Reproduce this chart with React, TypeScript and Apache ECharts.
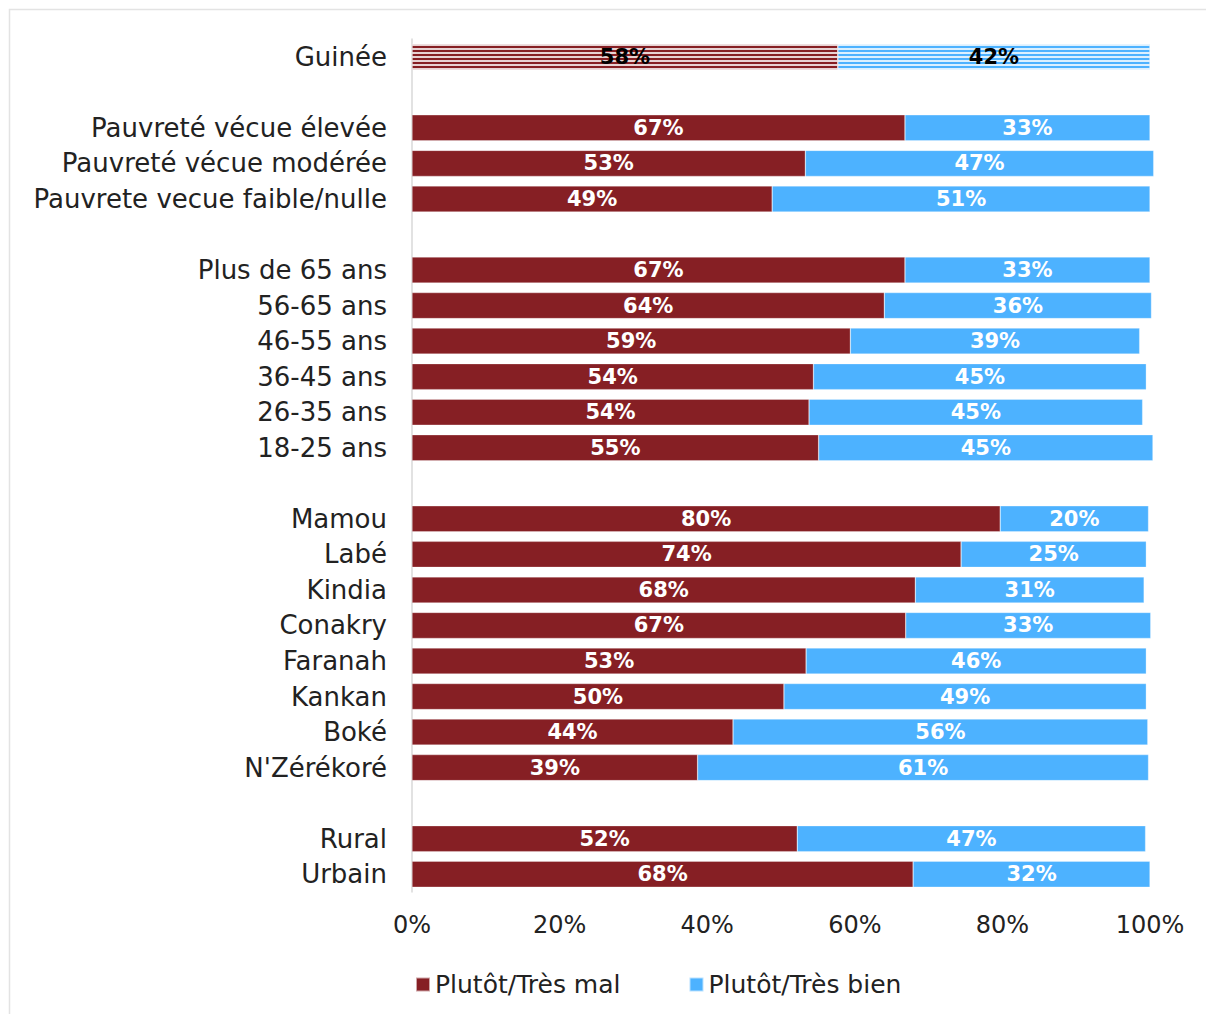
import React, { useEffect, useRef } from "react";
import * as echarts from "echarts";

const categories = [
  "Guinée",
  " ",
  "Pauvreté vécue élevée",
  "Pauvreté vécue modérée",
  "Pauvrete vecue faible/nulle",
  "  ",
  "Plus de 65 ans",
  "56-65 ans",
  "46-55 ans",
  "36-45 ans",
  "26-35 ans",
  "18-25 ans",
  "   ",
  "Mamou",
  "Labé",
  "Kindia",
  "Conakry",
  "Faranah",
  "Kankan",
  "Boké",
  "N'Zérékoré",
  "    ",
  "Rural",
  "Urbain",
];

const malValues: (number | null)[] = [
  57.7, null, 66.8, 53.3, 48.8, null, 66.8, 64.0, 59.4, 54.4, 53.8, 55.1, null,
  79.7, 74.4, 68.2, 66.9, 53.4, 50.4, 43.5, 38.7, null, 52.2, 67.9,
];

const bienValues: (number | null)[] = [
  42.3, null, 33.2, 47.2, 51.2, null, 33.2, 36.2, 39.2, 45.1, 45.2, 45.3, null,
  20.1, 25.1, 31.0, 33.2, 46.1, 49.1, 56.2, 61.1, null, 47.2, 32.1,
];

const xTicks = [0, 20, 40, 60, 80, 100];
const seriesNames = ["Plutôt/Très mal", "Plutôt/Très bien"];
const colors = ["#861F24", "#4DB2FF"];

const FONT = "DejaVu Sans";

function buildData(values: (number | null)[], color: string) {
  return values.map((v, i) => {
    if (v === null) return "-";
    if (i === 0) {
      return {
        value: v,
        itemStyle: {
          color,
          decal: {
            symbol: "rect",
            symbolSize: 1,
            dashArrayX: [1, 0],
            dashArrayY: [2, 2],
            rotation: 0,
            color: "rgba(255,255,255,0.8)",
          },
        },
        label: { color: "#000" },
      };
    }
    return v;
  });
}

export default function App() {
  const ref = useRef<HTMLDivElement>(null);
  useEffect(() => {
    if (!ref.current) return;
    const chart = echarts.init(ref.current, null, { renderer: "svg" });
    const mkSeries = (idx: number, values: (number | null)[]) => ({
      name: seriesNames[idx],
      type: "bar",
      stack: "total",
      barWidth: 26,
      clip: false,
      data: buildData(values, colors[idx]),
      itemStyle: { color: colors[idx], borderColor: "rgba(255,255,255,0.6)", borderWidth: 0.5 },
      label: {
        show: true,
        position: "inside",
        color: "#fff",
        fontFamily: FONT,
        fontWeight: "bold",
        fontSize: 21,
        formatter: (p: any) => Math.round(p.value) + "%",
      },
    });
    chart.setOption({
      animation: false,
      backgroundColor: "#fff",
      textStyle: { fontFamily: FONT },
      graphic: [
        {
          type: "rect",
          shape: { x: 9.5, y: 9.5, width: 1220, height: 1030 },
          style: { fill: "none", stroke: "#e3e3e3", lineWidth: 1.5 },
          silent: true,
        },
      ],
      legend: {
        top: 967,
        left: 410,
        itemWidth: 14,
        itemHeight: 14,
        itemGap: 68,
        icon: "rect",
        textStyle: { fontFamily: FONT, fontSize: 25, color: "#222" },
        data: seriesNames,
      },
      grid: { left: 412, right: 56, top: 39, bottom: 122, containLabel: false },
      xAxis: {
        type: "value",
        min: 0,
        max: 100,
        interval: 20,
        axisLine: { show: false },
        axisTick: { show: false },
        splitLine: { show: false },
        axisLabel: {
          margin: 21,
          fontFamily: FONT,
          fontSize: 24,
          color: "#222",
          formatter: (v: number) => (xTicks.includes(v) ? v + "%" : ""),
        },
      },
      yAxis: {
        type: "category",
        inverse: true,
        data: categories,
        axisLine: { show: true, lineStyle: { color: "#d9d9d9", width: 1.5 } },
        axisTick: { show: false },
        axisLabel: {
          margin: 25,
          fontFamily: FONT,
          fontSize: 26,
          color: "#222",
          interval: 0,
        },
      },
      series: [mkSeries(0, malValues), mkSeries(1, bienValues)],
    });
    return () => chart.dispose();
  }, []);
  return (
    <div
      ref={ref}
      style={{ position: "absolute", left: 0, top: 0, width: 1206, height: 1014 }}
    />
  );
}
